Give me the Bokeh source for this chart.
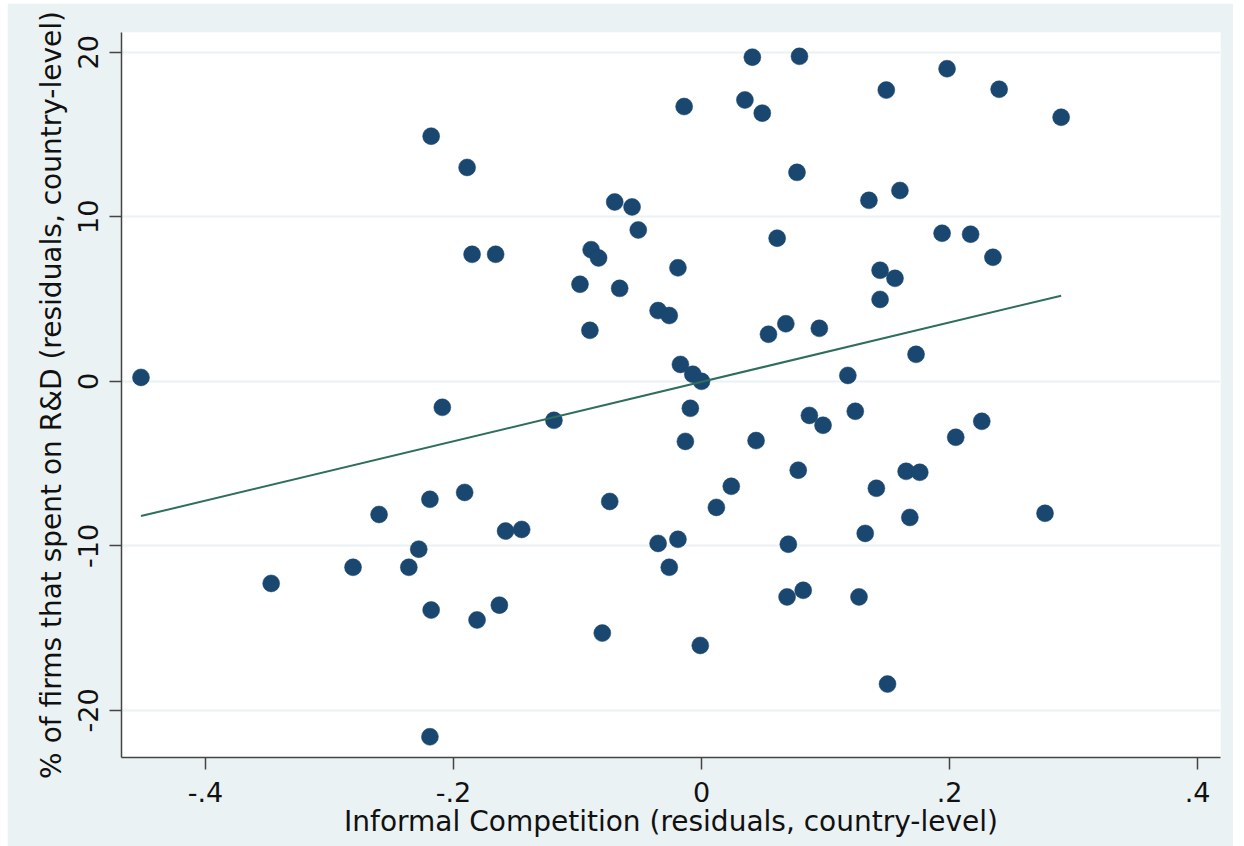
from bokeh.plotting import figure
from bokeh.models import Range1d, ColumnDataSource, FixedTicker, Spacer
from bokeh.layouts import row, column
from bokeh.embed import file_html
from bokeh.resources import INLINE
import numpy as np

# Informal competition residuals (x) and % firms spending on R&D residuals (y)
informal_x = [-0.452, -0.347, -0.281, -0.260, -0.236, -0.228, -0.219, -0.218, -0.218, -0.219,
              -0.209, -0.191, -0.189, -0.185, -0.181, -0.166, -0.163, -0.158, -0.145, -0.119,
              -0.098, -0.090, -0.089, -0.083, -0.080, -0.074, -0.070, -0.066, -0.056, -0.051,
              -0.035, -0.035, -0.026, -0.026, -0.019, -0.019, -0.017, -0.014, -0.013, -0.009,
              -0.007, 0.000, -0.001, 0.012, 0.024, 0.035, 0.041, 0.044, 0.049, 0.054,
              0.061, 0.068, 0.069, 0.070, 0.077, 0.079, 0.078, 0.082, 0.087, 0.095,
              0.098, 0.118, 0.124, 0.127, 0.132, 0.135, 0.141, 0.144, 0.144, 0.149,
              0.150, 0.156, 0.160, 0.165, 0.168, 0.173, 0.176, 0.194, 0.198, 0.205,
              0.217, 0.226, 0.235, 0.240, 0.277, 0.290]
rd_y = [0.24, -12.28, -11.3, -8.09, -11.3, -10.2, -7.17, 14.9, -13.9, -21.6,
        -1.58, -6.75, 13.0, 7.72, -14.5, 7.72, -13.6, -9.1, -9.0, -2.37,
        5.9, 3.1, 8.0, 7.5, -15.3, -7.3, 10.9, 5.65, 10.6, 9.2,
        -9.85, 4.3, 4.0, -11.3, 6.9, -9.6, 1.03, 16.7, -3.65, -1.64,
        0.43, 0.0, -16.05, -7.66, -6.38, 17.1, 19.7, -3.6, 16.3, 2.86,
        8.7, 3.5, -13.1, -9.9, 12.7, 19.75, -5.4, -12.7, -2.07, 3.22,
        -2.67, 0.36, -1.82, -13.1, -9.24, 11.0, -6.5, 4.98, 6.75, 17.7,
        -18.4, 6.26, 11.6, -5.47, -8.27, 1.64, -5.53, 9.0, 19.0, -3.4,
        8.94, -2.43, 7.54, 17.75, -8.02, 16.05]

# fitted line
fit_slope = 18.05
fit_intercept = -0.03

x_ticks = [-0.4, -0.2, 0.0, 0.2, 0.4]
x_tick_labels = ["-.4", "-.2", "0", ".2", ".4"]
y_ticks = [-20, -10, 0, 10, 20]
y_tick_labels = ["-20", "-10", "0", "10", "20"]

BG = "#EAF2F3"
NAVY = "#1A476F"
GREEN = "#2E6E5D"
FONT = "DejaVu Sans"

p = figure(width=1226, height=843, output_backend="svg", toolbar_location=None,
           x_range=Range1d(-0.4677, 0.4185), y_range=Range1d(-22.86, 21.2),
           min_border_left=114, min_border_right=13, min_border_top=29, min_border_bottom=89)
p.border_fill_color = BG
p.background_fill_color = "white"
p.outline_line_color = None

p.xgrid.visible = False
p.ygrid.ticker = FixedTicker(ticks=y_ticks)
p.ygrid.grid_line_color = BG
p.ygrid.grid_line_width = 2

p.xaxis.ticker = FixedTicker(ticks=x_ticks)
p.yaxis.ticker = FixedTicker(ticks=y_ticks)
p.xaxis.major_label_overrides = {t: l for t, l in zip(x_ticks, x_tick_labels)}
p.yaxis.major_label_overrides = {t: l for t, l in zip(y_ticks, y_tick_labels)}
p.yaxis.major_label_orientation = "vertical"

for ax in (p.xaxis, p.yaxis):
    ax.axis_line_color = "#444444"
    ax.axis_line_width = 1.5
    ax.major_tick_line_color = "#444444"
    ax.major_tick_line_width = 1.5
    ax.major_tick_out = 12
    ax.major_tick_in = 0
    ax.minor_tick_line_color = None
    ax.major_label_text_font = FONT
    ax.major_label_text_font_size = "27px"
    ax.major_label_text_color = "#111111"
    ax.axis_label_text_font = FONT
    ax.axis_label_text_font_size = "28px"
    ax.axis_label_text_font_style = "normal"
    ax.axis_label_text_color = "#111111"

p.xaxis.major_label_standoff = 12
p.yaxis.major_label_standoff = 11
p.xaxis.axis_label = "Informal Competition (residuals, country-level)"
p.yaxis.axis_label = "% of firms that spent on R&D (residuals, country-level)"
p.xaxis.axis_label_standoff = 0
p.yaxis.axis_label_standoff = 8

src = ColumnDataSource(dict(x=informal_x, y=rd_y))
p.scatter("x", "y", source=src, size=17, fill_color=NAVY, line_color=NAVY, line_width=0.5)

xs = np.array([min(informal_x), max(informal_x)])
p.line(xs, fit_intercept + fit_slope * xs, line_color=GREEN, line_width=2)

layout = column(Spacer(height=3), row(Spacer(width=7), p))
open("out.html", "w").write(file_html(layout, INLINE))
